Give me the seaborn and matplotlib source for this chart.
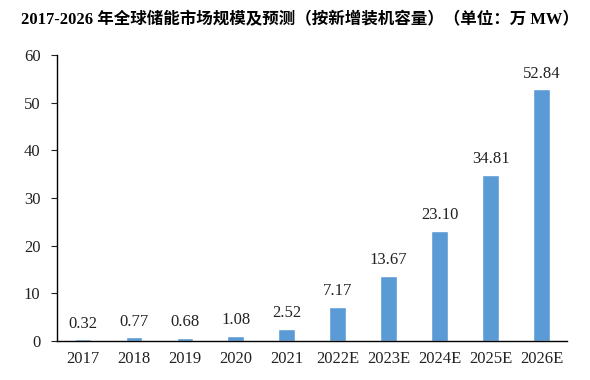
import matplotlib
matplotlib.use("Agg")
import matplotlib.pyplot as plt
import seaborn as sns
import pandas as pd

sns.set_theme(style="white")
plt.rcParams["font.family"] = ["Liberation Serif", "Noto Sans CJK SC", "DejaVu Sans"]

years = ["2017", "2018", "2019", "2020", "2021", "2022E", "2023E", "2024E", "2025E", "2026E"]
capacity = [0.32, 0.77, 0.68, 1.08, 2.52, 7.17, 13.67, 23.10, 34.81, 52.84]
yticks = [0, 10, 20, 30, 40, 50, 60]

df = pd.DataFrame({"year": years, "capacity": capacity})

fig = plt.figure(figsize=(5.9, 3.8), dpi=100)
ax = fig.add_axes([0.097, 0.103, 0.864, 0.752])
sns.barplot(data=df, x="year", y="capacity", color="#5B9BD5", saturation=1,
            width=0.32, ax=ax)

for i, v in enumerate(capacity):
    ax.text(i, v + 1.6, f"{v:.2f}", ha="center", va="bottom", fontsize=12, color="#222222")

ax.set_ylim(0, 60)
ax.set_yticks(yticks)
ax.set_xlim(-0.5, len(years) - 0.5)
ax.set_xlabel("")
ax.set_ylabel("")
ax.tick_params(axis="both", labelsize=12, colors="#222222")
ax.tick_params(axis="y", length=4, width=0.8, direction="out", left=True, pad=8)
ax.tick_params(axis="x", length=0, pad=7)
for s in ["top", "right"]:
    ax.spines[s].set_visible(False)
for s in ["left", "bottom"]:
    ax.spines[s].set_color("black")
    ax.spines[s].set_linewidth(1.0)

fig.text(0.508, 0.947, "2017-2026 年全球储能市场规模及预测（按新增装机容量）（单位：万 MW）",
         ha="center", va="center", fontsize=11.9, fontweight="bold", color="black")

fig.savefig("out.png", dpi=100)
